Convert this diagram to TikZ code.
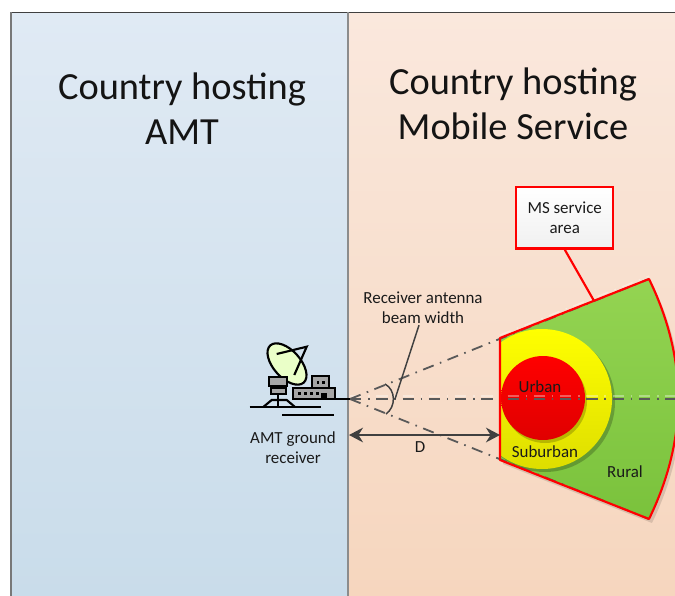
\documentclass[tikz,border=0pt]{standalone}
\usepackage{fontspec}
\setmainfont{Carlito}
\usetikzlibrary{arrows.meta}
\definecolor{darkline}{RGB}{64,64,64}
\definecolor{beamline}{RGB}{89,89,89}
\definecolor{iconfill}{RGB}{166,166,166}
\tikzset{
  small label/.style={inner sep=0.75pt,font=\fontsize{12.7}{15}\selectfont,align=center,text={rgb,255:red,26;green,26;blue,26}},
  big label/.style={inner sep=0.75pt,font=\fontsize{28.8}{33.75}\selectfont,align=center,text={rgb,255:red,20;green,20;blue,20}},
  beam/.style={color=beamline,line width=1.35pt,dash pattern={on 8.5pt off 5pt on 1.2pt off 5pt}},
  beam shadow/.style={color=white,opacity=0.35,line width=1pt,dash pattern={on 8.5pt off 5pt on 1.2pt off 5pt}},
  red edge/.style={color=red,line width=1.6pt,line join=round},
  icon/.style={color=black,line width=1.6pt},
  icon box/.style={icon,fill=iconfill},
}
\begin{document}
\begin{tikzpicture}[x=0.75pt,y=0.75pt,yscale=-1,xscale=1]
\useasboundingbox (0,0) rectangle (675,596);
\clip (0,0) rectangle (675,596);

%Shape: Rectangle left country
\path [top color={rgb,255:red,224;green,234;blue,244},bottom color={rgb,255:red,201;green,220;blue,234}] (11,12) rectangle (348,596);
%Shape: Rectangle right country
\path [top color={rgb,255:red,250;green,232;blue,221},bottom color={rgb,255:red,246;green,214;blue,190}] (348,12) rectangle (675,596);
%Straight Lines borders
\draw [color={rgb,255:red,64;green,64;blue,64},line width=0.9pt] (11,12.5) -- (675,12.5);
\draw [color={rgb,255:red,120;green,120;blue,120},line width=1pt] (11,12) -- (11,596);
\draw [color={rgb,255:red,140;green,140;blue,140},line width=1pt] (348,12) -- (348,596);

\coordinate (apex) at (350,399);
\coordinate (cornertop) at (500,338);
\coordinate (cornerbot) at (500,460);
\coordinate (tiptop) at (649,279);
\coordinate (tipbot) at (649,519);
\coordinate (axisend) at (675,399);
\coordinate (sectortop) at (594,300.8);
\coordinate (arcmid) at (395,399);
\coordinate (dleft) at (349,435);
\coordinate (dright) at (500,435);

%Shape: Sector shadow
\fill [black,opacity=0.12] (503,464) -- (652,523) .. controls (691,443) and (691,363) .. (652,283) -- (503,342) -- cycle ;
%Shape: Sector rural
\path [top color={rgb,255:red,148;green,212;blue,82},bottom color={rgb,255:red,122;green,194;blue,60}] (cornertop) -- (tiptop) .. controls (688,359) and (688,439) .. (tipbot) -- (cornerbot) -- cycle ;
\begin{scope}
\clip (cornertop) -- (tiptop) .. controls (688,359) and (688,439) .. (tipbot) -- (cornerbot) -- cycle ;
%Shape: Circle suburban
\fill [black,opacity=0.22] (545,402) circle [radius=70];
\path [top color={rgb,255:red,255;green,255;blue,0},bottom color={rgb,255:red,222;green,222;blue,0}] (542,399) circle [radius=70];
\end{scope}
%Shape: Circle urban
\fill [black,opacity=0.2] (545,401) circle [radius=42];
\path [top color={rgb,255:red,255;green,0;blue,0},bottom color={rgb,255:red,224;green,0;blue,0}] (543,398) circle [radius=42];

%Straight Lines beam shadows
\draw [beam shadow] ([yshift=-2.2pt]cornertop) -- ([yshift=-2.2pt]tiptop) ;
\draw [beam shadow] ([yshift=-2.2pt]apex) -- ([yshift=-2.2pt]axisend) ;
%Straight Lines beam
\draw [beam] (apex) -- (tiptop) ;
\draw [beam] (apex) -- (tipbot) ;
\draw [beam] (apex) -- (axisend) ;
%Shape: Sector outline
\draw [red edge] (cornertop) -- (tiptop) .. controls (688,359) and (688,439) .. (tipbot) -- (cornerbot) -- cycle ;

%Shape: Dish
\draw [icon,fill={rgb,255:red,234;green,255;blue,200}] (287,364) circle [x radius=25,y radius=13.5,rotate=48];
\draw [icon] (276.7,354) -- (306.7,346.7) -- (294.3,375) ;
%Shape: Rectangle mount
\draw [icon box] (269,377.3) rectangle (286.7,385.7);
\draw [icon box] (271,387.7) rectangle (285.7,394.3);
%Straight Lines stand
\draw [icon] (278.3,394.3) -- (278.3,407.3) ;
\draw [icon] (263.3,407) -- (271.7,400) -- (286.7,400) -- (295,407) ;
\draw [icon] (249.7,407.3) -- (321,407.3) ;
\draw [icon] (282.3,414.7) -- (334,414.7) ;
%Shape: Rectangle building
\draw [icon box] (311.7,375.7) rectangle (329,388.3);
\draw [icon box] (293.3,388.3) rectangle (335,399);
\fill (316.5,381) rectangle (319,383.5);
\fill (322,381) rectangle (324.5,383.5);
\foreach \winx in {298,304,310,316}
  \fill (\winx,392) rectangle (\winx+2.5,394.5);
\fill (321,393) rectangle (326.5,399);
\draw [icon] (293,399) -- (apex) ;

%Curve Lines beam width
\draw [color=darkline,line width=1.1pt] (385,384) .. controls (396,390) and (396,407) .. (386,414) ;

% Text Node
\draw (182,109) node [big label] (hostamt) {Country hosting\\AMT};
% Text Node
\draw (513,104) node [big label] (hostms) {Country hosting\\Mobile Service};
% Text Node
\draw (564.7,217.8) node [draw=red,line width=1.6pt,top color=white,bottom color={rgb,255:red,240;green,240;blue,240},minimum width=73pt,minimum height=46pt,small label] (msbox) {MS service\\area};
% Text Node
\draw (423,308) node [small label] (beamtext) {Receiver antenna\\beam width};
% Text Node
\draw (293,447.5) node [small label] (amttext) {AMT ground\\receiver};
% Text Node
\draw (420,447) node [small label] (dlabel) {D};
% Text Node
\draw (540,387) node [small label] (urbanlabel) {Urban};
% Text Node
\draw (545,452) node [small label] (suburbanlabel) {Suburban};
% Text Node
\draw (625,472) node [small label] (rurallabel) {Rural};

%Straight Lines
\draw [red edge] (msbox.south) -- (sectortop) ;
\draw [color=darkline,line width=1.1pt] ([xshift=-3pt]beamtext.south) -- (arcmid) ;
\draw [{Stealth[length=10.5pt,width=11pt]}-{Stealth[length=10.5pt,width=11pt]},color=darkline,line width=1.6pt] (dleft) -- (dright) ;
\end{tikzpicture}
\end{document}
